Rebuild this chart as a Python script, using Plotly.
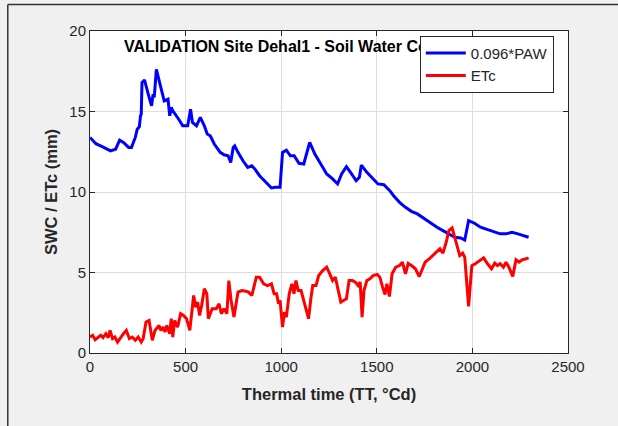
import plotly.graph_objects as go

# thermal time (TT, °Cd) and soil water content 0.096*PAW (mm)
tt_swc = [0, 31, 72, 107, 134, 155, 175, 202, 217, 237, 247, 258, 264, 268, 272, 285, 305, 322,
          330, 336, 347, 361, 375, 388, 408, 417, 425, 433, 464, 485, 511, 526, 536, 557, 577,
          598, 613, 629, 650, 681, 701, 722, 736, 749, 757, 774, 800, 825, 846, 862, 887, 918,
          949, 969, 994, 1007, 1027, 1048, 1068, 1093, 1118, 1149, 1176, 1207, 1238, 1269,
          1295, 1316, 1341, 1368, 1392, 1409, 1419, 1448, 1475, 1506, 1537, 1568, 1588, 1619,
          1650, 1681, 1712, 1743, 1774, 1815, 1846, 1877, 1908, 1939, 1960, 1980, 2011, 2042,
          2083, 2114, 2145, 2176, 2207, 2238, 2269, 2294]
swc = [13.39, 13.0, 12.77, 12.55, 12.66, 13.22, 13.08, 12.77, 12.77, 13.39, 13.9, 14.05, 14.73,
       14.84, 16.8, 16.96, 16.07, 15.35, 16.07, 15.87, 17.62, 16.9, 16.18, 15.66, 15.76, 14.73,
       15.25, 15.04, 14.52, 14.11, 14.11, 15.14, 14.32, 14.11, 14.63, 14.11, 13.6, 13.49,
       12.98, 12.46, 12.31, 12.25, 11.84, 12.77, 12.87, 12.46, 11.94, 11.53, 11.63, 11.43,
       11.01, 10.6, 10.25, 10.29, 10.29, 12.46, 12.6, 12.25, 12.25, 11.78, 11.74, 13.08, 12.36,
       11.74, 11.12, 10.81, 10.5, 11.12, 11.57, 11.12, 10.7, 10.91, 11.67, 11.22, 10.91, 10.5,
       10.45, 10.08, 9.77, 9.36, 9.05, 8.8, 8.64, 8.39, 8.12, 7.81, 7.6, 7.4, 7.19, 7.15, 7.02,
       8.22, 8.06, 7.81, 7.64, 7.5, 7.4, 7.4, 7.5, 7.4, 7.29, 7.19]

# crop evapotranspiration ETc (mm)
tt_etc = [0, 14, 27, 41, 56, 68, 83, 95, 105, 118, 130, 144, 159, 175, 190, 206, 221, 237, 252,
          268, 278, 293, 309, 326, 340, 361, 371, 382, 392, 402, 417, 425, 433, 443, 458, 474,
          489, 505, 522, 542, 553, 563, 573, 584, 598, 611, 619, 639, 660, 675, 687, 701, 716,
          726, 738, 753, 774, 794, 815, 829, 846, 856, 870, 887, 908, 928, 949, 963, 976, 986,
          994, 1007, 1017, 1027, 1042, 1056, 1067, 1077, 1089, 1104, 1118, 1131, 1143, 1155,
          1165, 1182, 1196, 1217, 1238, 1254, 1269, 1283, 1295, 1312, 1326, 1341, 1355, 1372,
          1388, 1402, 1413, 1423, 1433, 1448, 1464, 1481, 1502, 1516, 1530, 1543, 1553, 1566,
          1580, 1599, 1619, 1634, 1650, 1664, 1681, 1702, 1722, 1737, 1753, 1774, 1795, 1811,
          1830, 1846, 1863, 1877, 1894, 1908, 1922, 1934, 1949, 1960, 1980, 1997, 2015, 2038,
          2059, 2079, 2100, 2117, 2131, 2145, 2162, 2176, 2191, 2211, 2228, 2244, 2260, 2280,
          2294]
etc = [0.99, 1.1, 0.83, 0.95, 1.1, 0.95, 1.2, 0.95, 1.4, 0.89, 0.99, 0.68, 0.95, 1.2, 1.4, 0.89,
       0.99, 0.79, 0.99, 0.68, 0.89, 1.92, 2.02, 0.79, 1.4, 1.71, 1.4, 1.61, 1.3, 1.71, 1.2,
       2.13, 0.99, 2.02, 1.61, 2.44, 2.33, 2.13, 1.4, 3.57, 2.85, 3.16, 2.33, 2.95, 3.99, 3.68,
       2.13, 2.75, 2.75, 3.06, 2.44, 2.75, 2.44, 4.5, 3.26, 2.23, 3.78, 3.88, 3.84, 3.78, 3.57,
       4.09, 4.71, 4.71, 4.3, 4.19, 4.3, 3.68, 3.68, 3.06, 3.26, 1.61, 2.54, 2.23, 3.68, 4.3,
       3.68, 4.5, 3.88, 3.88, 3.26, 2.64, 2.13, 3.37, 4.19, 4.19, 4.81, 5.12, 5.33, 4.92, 4.5,
       4.71, 4.09, 3.16, 3.26, 3.37, 4.5, 4.5, 4.4, 4.19, 4.4, 2.23, 3.88, 4.5, 4.61, 4.81, 4.88,
       4.71, 4.09, 3.64, 4.3, 3.51, 4.92, 5.33, 5.43, 5.64, 4.92, 5.56, 5.43, 5.23, 4.75, 5.23,
       5.64, 5.85, 6.05, 6.26, 6.47, 6.2, 6.88, 7.6, 7.77, 7.19, 6.47, 6.05, 6.2, 5.95, 2.89,
       5.43, 5.54, 5.74, 5.91, 5.54, 5.23, 5.58, 5.43, 5.54, 5.33, 5.64, 5.33, 4.75, 5.79, 5.64,
       5.79, 5.85, 5.91]

x_ticks = [0, 500, 1000, 1500, 2000, 2500]
y_ticks = [0, 5, 10, 15, 20]

title_text = "VALIDATION Site Dehal1 - Soil Water Content"

font = "Liberation Sans, Arial, sans-serif"
axis_col = "#262626"

fig = go.Figure()
# title drawn as a text trace so the legend sits on top of it (as in MATLAB)
fig.add_trace(go.Scatter(x=[178], y=[18.95], mode="text", text=["<b>" + title_text + "</b>"],
                         textposition="middle right", showlegend=False, hoverinfo="skip",
                         textfont=dict(family=font, size=16, color="#000000")))
fig.add_trace(go.Scatter(x=tt_swc, y=swc, mode="lines", name="0.096*PAW",
                         line=dict(color="#0000FF", width=3)))
fig.add_trace(go.Scatter(x=tt_etc, y=etc, mode="lines", name="ETc",
                         line=dict(color="#FF0000", width=3)))

# figure frame (top and left edges)
fig.add_shape(type="line", xref="paper", yref="paper", x0=-0.172, x1=1.2, y0=1.082, y1=1.082,
              line=dict(color="#333333", width=1.5))
fig.add_shape(type="line", xref="paper", yref="paper", x0=-0.172, x1=-0.172, y0=-0.3, y1=1.082,
              line=dict(color="#333333", width=1.5))

fig.update_xaxes(range=[0, 2500], tickvals=x_ticks, ticks="inside", ticklen=5,
                 tickcolor=axis_col, showline=True, linecolor=axis_col, linewidth=1,
                 mirror="ticks", showgrid=True, gridcolor="#DEDEDE", zeroline=False,
                 automargin=False,
                 tickfont=dict(family=font, size=15, color=axis_col),
                 title=dict(text="<b>Thermal time (TT, °Cd)</b>", standoff=14,
                            font=dict(family=font, size=16.5, color=axis_col)))
fig.update_yaxes(range=[0, 20], tickvals=y_ticks, ticks="inside", ticklen=5,
                 tickcolor=axis_col, showline=True, linecolor=axis_col, linewidth=1,
                 mirror="ticks", showgrid=True, gridcolor="#DEDEDE", zeroline=False,
                 automargin=False,
                 tickfont=dict(family=font, size=15, color=axis_col),
                 title=dict(text="<b>SWC / ETc (mm)</b>", standoff=7,
                            font=dict(family=font, size=16.5, color=axis_col)))

fig.update_layout(
    template="none",
    width=618, height=426,
    margin=dict(l=90, r=50, t=31, b=73),
    paper_bgcolor="#F0F0F0", plot_bgcolor="#FFFFFF",
    showlegend=True,
    legend=dict(x=0.69, y=0.985, xanchor="left", yanchor="top",
                bgcolor="#FFFFFF", bordercolor=axis_col, borderwidth=1,
                font=dict(family=font, size=15, color=axis_col),
                itemwidth=40, tracegroupgap=0),
)

fig.write_html("out.html", config={"displayModeBar": False},
               post_script="document.body.style.margin='0';document.body.style.overflow='hidden';"
                           "document.documentElement.style.overflow='hidden';")
